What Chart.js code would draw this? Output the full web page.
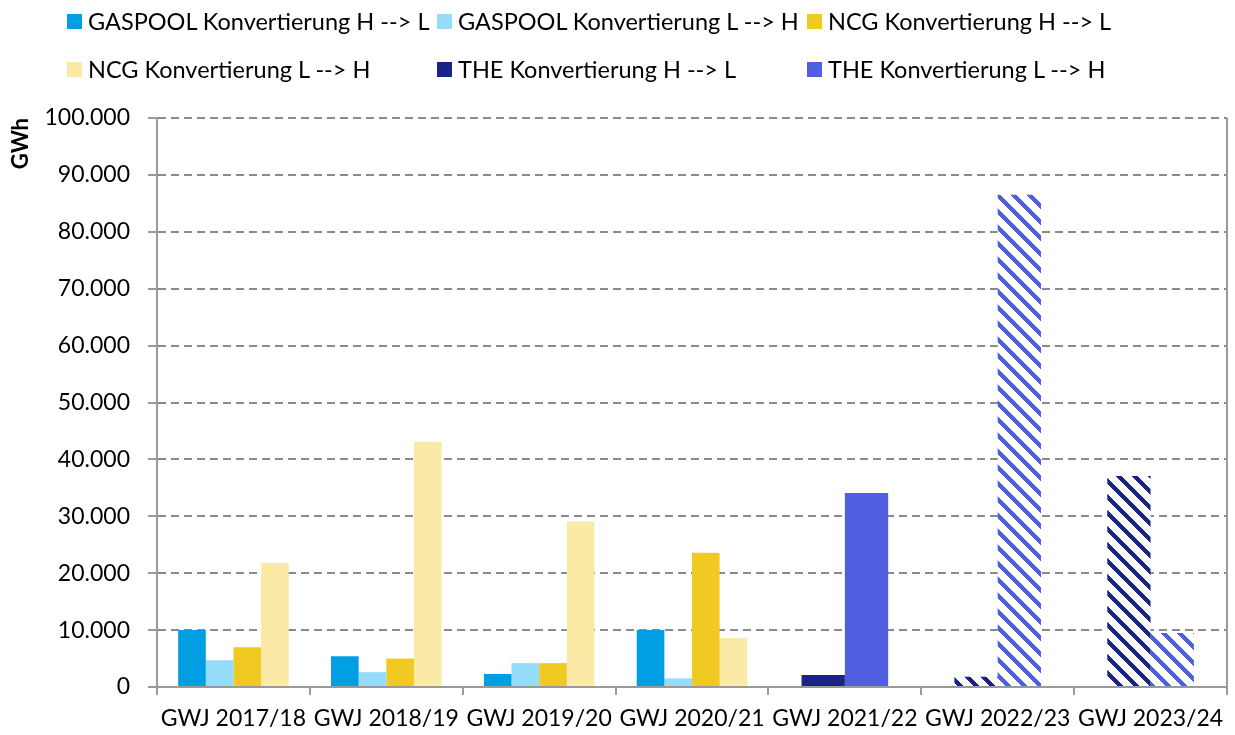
<!DOCTYPE html>
<html>
<head>
<meta charset="utf-8">
<script src="https://cdn.jsdelivr.net/npm/chart.js@4.4.1/dist/chart.umd.min.js"></script>
<style>
  html, body { margin: 0; padding: 0; background: #fff; overflow: hidden; }
  #wrap { position: relative; width: 1235px; height: 735px; }
  #chart { position: absolute; left: 0; top: 0; }
  .lg { position: absolute; display: flex; align-items: center; font-family: Lato, sans-serif; font-size: 23.5px; color: #000; white-space: nowrap; height: 30px; }
  .lg i { display: inline-block; width: 15px; height: 15px; margin-right: 6px; }
</style>
</head>
<body>
<div id="wrap">
  <canvas id="chart" width="1235" height="735"></canvas>
</div>
<script>
// ---- data ----
const categories = ['GWJ 2017/18', 'GWJ 2018/19', 'GWJ 2019/20', 'GWJ 2020/21', 'GWJ 2021/22', 'GWJ 2022/23', 'GWJ 2023/24'];
const seriesNames = ['GASPOOL Konvertierung H --> L', 'GASPOOL Konvertierung L --> H', 'NCG Konvertierung H --> L', 'NCG Konvertierung L --> H', 'THE Konvertierung H --> L', 'THE Konvertierung L --> H'];
const gaspoolHL = [10000, 5400, 2300, 10000, null, null, null];
const gaspoolLH = [4700, 2600, 4200, 1500, null, null, null];
const ncgHL = [7000, 5000, 4200, 23600, null, null, null];
const ncgLH = [21800, 43100, 29100, 8600, null, null, null];
const theHL = [null, null, null, null, 2100, 1800, 37100];
const theLH = [null, null, null, null, 34100, 86500, 9500];
const hatchedCategories = ['GWJ 2022/23', 'GWJ 2023/24'];
const yTicks = [0, 10000, 20000, 30000, 40000, 50000, 60000, 70000, 80000, 90000, 100000];

// ---- styles ----
const colors = ['#009FE3', '#95DBFA', '#F0CA22', '#FAEAA6', '#1A2388', '#4F5FE0'];
const FONT = 'Lato, sans-serif';

function makeHatch(color) {
  const c = document.createElement('canvas');
  c.width = 16; c.height = 16;
  const g = c.getContext('2d');
  g.fillStyle = '#ffffff';
  g.fillRect(0, 0, 16, 16);
  g.fillStyle = color;
  for (let y = 0; y < 16; y++) {
    for (let x = 0; x < 16; x++) {
      if ((((x - y) % 16) + 16) % 16 < 6) g.fillRect(x, y, 1, 1);
    }
  }
  return g.createPattern(c, 'repeat');
}

function fmt(v) {
  return String(v).replace(/\B(?=(\d{3})+(?!\d))/g, '.');
}

// legend (HTML, laid out in a grid like the original)
const wrap = document.getElementById('wrap');
seriesNames.forEach((name, i) => {
  const row = Math.floor(i / 3), col = i % 3;
  const d = document.createElement('div');
  d.className = 'lg';
  d.style.left = (67 + col * 370) + 'px';
  d.style.top = (6 + row * 48) + 'px';
  const box = document.createElement('i');
  box.style.background = colors[i];
  d.appendChild(box);
  d.appendChild(document.createTextNode(name));
  wrap.appendChild(d);
});

const rightBorder = {
  id: 'rightBorder',
  afterDraw(chart) {
    const { ctx, chartArea } = chart;
    ctx.save();
    ctx.strokeStyle = '#9a9a9a';
    ctx.lineWidth = 2;
    ctx.beginPath();
    ctx.moveTo(chartArea.right, chartArea.top);
    ctx.lineTo(chartArea.right, chartArea.bottom + 8);
    ctx.stroke();
    ctx.restore();
  }
};

function build() {
  const hatchDark = makeHatch(colors[4]);
  const hatchBlue = makeHatch(colors[5]);
  const theHLcolors = categories.map(c => hatchedCategories.includes(c) ? hatchDark : colors[4]);
  const theLHcolors = categories.map(c => hatchedCategories.includes(c) ? hatchBlue : colors[5]);

  const catA = 4 / (4 + 1.53);
  const catB = 2 / (2 + 1.53);

  new Chart(document.getElementById('chart'), {
    type: 'bar',
    data: {
      labels: categories,
      datasets: [
        { label: seriesNames[0], data: gaspoolHL, backgroundColor: colors[0], categoryPercentage: catA },
        { label: seriesNames[1], data: gaspoolLH, backgroundColor: colors[1], categoryPercentage: catA },
        { label: seriesNames[2], data: ncgHL, backgroundColor: colors[2], categoryPercentage: catA },
        { label: seriesNames[3], data: ncgLH, backgroundColor: colors[3], categoryPercentage: catA },
        { label: seriesNames[4], data: theHL, backgroundColor: theHLcolors, categoryPercentage: catB },
        { label: seriesNames[5], data: theLH, backgroundColor: theLHcolors, categoryPercentage: catB }
      ]
    },
    options: {
      responsive: false,
      animation: false,
      devicePixelRatio: 1,
      skipNull: true,
      datasets: { bar: { skipNull: true, barPercentage: 1 } },
      layout: { padding: { top: 118, right: 8, left: 0, bottom: 0 } },
      plugins: {
        legend: { display: false },
        tooltip: { enabled: false }
      },
      scales: {
        x: {
          type: 'category',
          position: 'bottom',
          offset: true,
          grid: { offset: true, drawOnChartArea: false, drawTicks: true, tickLength: 8, color: '#9a9a9a', lineWidth: 2 },
          border: { display: true, color: '#9a9a9a', width: 2 },
          ticks: { color: '#000', font: { family: FONT, size: 23 }, padding: 10, maxRotation: 0, autoSkip: false },
          afterFit(scale) { scale.height = 48; }
        },
        y: {
          min: 0,
          max: 100000,
          afterBuildTicks(scale) { scale.ticks = yTicks.map(v => ({ value: v })); },
          grid: { color: '#8a8a8a', lineWidth: 2, drawTicks: true, tickLength: 9, tickColor: '#9a9a9a', tickWidth: 2 },
          border: { display: true, color: '#9a9a9a', width: 2, dash: [8, 5] },
          ticks: { color: '#000', font: { family: FONT, size: 23 }, padding: 18, callback: (v) => fmt(v) },
          title: { display: true, text: 'GWh', align: 'end', color: '#000', font: { family: FONT, size: 22, weight: 'bold' }, padding: { top: 8, bottom: 0 } },
          afterFit(scale) { scale.width = 157; }
        }
      }
    },
    plugins: [rightBorder]
  });
}

const fontsReady = (document.fonts && document.fonts.load)
  ? Promise.all([document.fonts.load('23px Lato'), document.fonts.load('bold 22px Lato')]).catch(() => {})
  : Promise.resolve();
fontsReady.then(build);
</script>
</body>
</html>
